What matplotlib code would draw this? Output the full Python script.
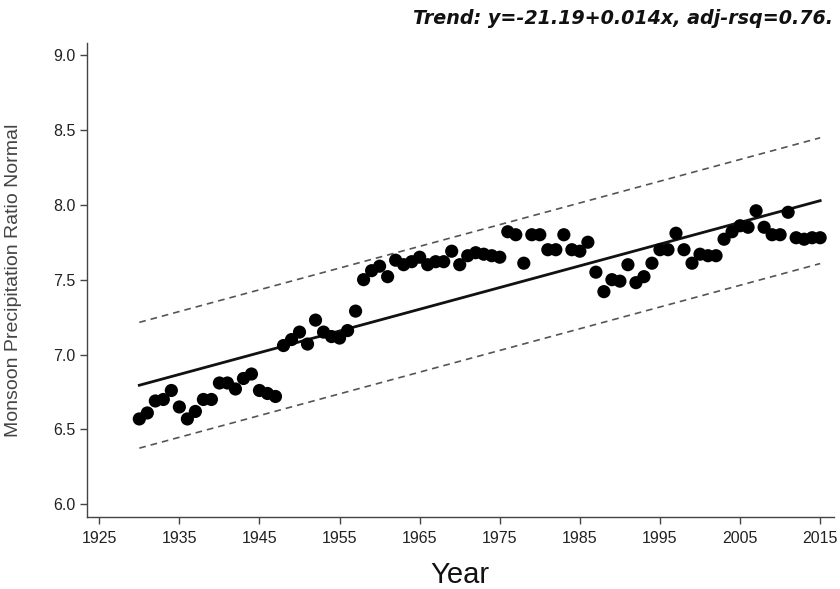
"""Monsoon precipitation ratio vs. year with a linear trend and its band."""

import matplotlib

matplotlib.use("Agg")
import matplotlib.pyplot as plt
from matplotlib.ticker import FormatStrFormatter, MultipleLocator

YEARS = list(range(1930, 2016))
RATIO = [
    6.57, 6.61, 6.69, 6.70, 6.76, 6.65, 6.57, 6.62, 6.70, 6.70,  # 1930s
    6.81, 6.81, 6.77, 6.84, 6.87, 6.76, 6.74, 6.72, 7.06, 7.10,  # 1940s
    7.15, 7.07, 7.23, 7.15, 7.12, 7.11, 7.16, 7.29, 7.50, 7.56,  # 1950s
    7.59, 7.52, 7.63, 7.60, 7.62, 7.65, 7.60, 7.62, 7.62, 7.69,  # 1960s
    7.60, 7.66, 7.68, 7.67, 7.66, 7.65, 7.82, 7.80, 7.61, 7.80,  # 1970s
    7.80, 7.70, 7.70, 7.80, 7.70, 7.69, 7.75, 7.55, 7.42, 7.50,  # 1980s
    7.49, 7.60, 7.48, 7.52, 7.61, 7.70, 7.70, 7.81, 7.70, 7.61,  # 1990s
    7.67, 7.66, 7.66, 7.77, 7.82, 7.86, 7.85, 7.96, 7.85, 7.80,  # 2000s
    7.80, 7.95, 7.78, 7.77, 7.78, 7.78,                          # 2010s
]

# fitted trend y = a + b * year (b reported truncated to 3 places), band +/- around it
INTERCEPT = -21.19
SLOPE = 0.0145
SLOPE_TEXT = "0.014"
ADJ_RSQ = 0.76
BAND = 0.42

X_TICKS = list(range(1925, 2016, 10))


def trend(year):
    return INTERCEPT + SLOPE * year


def main():
    fig = plt.figure(figsize=(8.4, 5.89), dpi=100)
    ax = fig.add_axes([0.1032, 0.1227, 0.8894, 0.8042])

    ends = [YEARS[0], YEARS[-1]]
    fit = [trend(y) for y in ends]
    ax.plot(ends, fit, color="#111111", linewidth=2.0, zorder=3)
    for sign in (1, -1):
        ax.plot(ends, [v + sign * BAND for v in fit], color="#555555",
                linewidth=1.2, linestyle=(0, (4, 3)), zorder=2)

    ax.scatter(YEARS, RATIO, s=90, color="black", edgecolors="none", zorder=4)

    ax.set_xlim(1923.43, 2016.7)
    ax.set_ylim(5.917, 9.08)
    ax.set_xticks(X_TICKS)
    ax.yaxis.set_major_locator(MultipleLocator(0.5))
    ax.yaxis.set_major_formatter(FormatStrFormatter("%.1f"))

    for side in ("top", "right"):
        ax.spines[side].set_visible(False)
    for side in ("left", "bottom"):
        ax.spines[side].set_color("#444444")
        ax.spines[side].set_linewidth(1.0)

    ax.tick_params(axis="both", direction="out", length=5, width=1.0,
                   color="#444444", labelcolor="#222222", labelsize=11.5)
    ax.tick_params(axis="x", pad=5)
    ax.tick_params(axis="y", pad=3)
    for lbl in ax.get_xticklabels() + ax.get_yticklabels():
        lbl.set_family("Liberation Sans")

    ax.set_ylabel("Monsoon Precipitation Ratio Normal", fontsize=14,
                  color="#444444", family="Liberation Sans")
    ax.yaxis.set_label_coords(-0.0866, 0.5)
    ax.set_xlabel("Year", fontsize=21, color="#111111", family="Liberation Sans",
                  va="center")
    ax.xaxis.set_label_coords(0.5, -0.123)

    fig.text(0.992, 1 - 18 / 589,
             f"Trend: y={INTERCEPT:.2f}+{SLOPE_TEXT}x, adj-rsq={ADJ_RSQ:.2f}.",
             ha="right", va="center", fontsize=13.8, fontweight="bold",
             fontstyle="italic", color="#111111")

    fig.savefig("out.png", dpi=100)
    plt.close(fig)


if __name__ == "__main__":
    main()
